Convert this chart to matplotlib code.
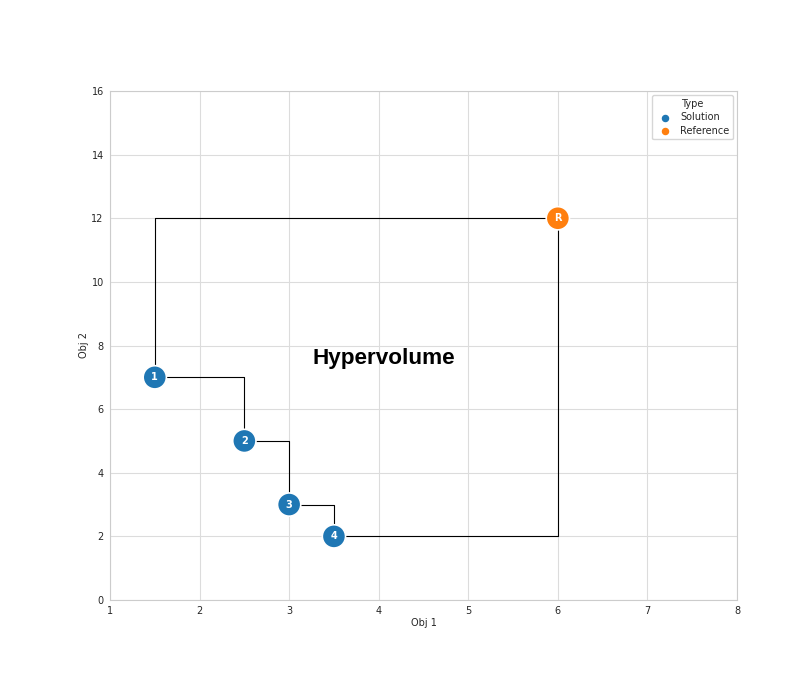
import matplotlib
matplotlib.use('Agg')
import matplotlib.pyplot as plt
import seaborn as sns
import pandas as pd

# solutions and reference point
obj1 = [1.5, 2.5, 3.0, 3.5]
obj2 = [7, 5, 3, 2]
labels = ['1', '2', '3', '4']
ref_x, ref_y = 6, 12

df = pd.DataFrame({'Obj 1': obj1 + [ref_x], 'Obj 2': obj2 + [ref_y],
                   'Type': ['Solution'] * len(obj1) + ['Reference']})

sns.set_style('whitegrid', {'grid.color': '#dcdcdc'})
fig = plt.figure(figsize=(8.04, 6.8), dpi=100)
ax = fig.add_axes([110 / 804, 1 - 600 / 680, (737 - 110) / 804, (600 - 91) / 680])

# hypervolume boundary (staircase + reference box)
px = [obj1[0]]
py = [ref_y]
for i in range(len(obj1)):
    px.append(obj1[i]); py.append(obj2[i])
    nx = obj1[i + 1] if i + 1 < len(obj1) else ref_x
    px.append(nx); py.append(obj2[i])
px += [ref_x, obj1[0]]
py += [ref_y, ref_y]
ax.plot(px, py, color='black', lw=0.8, zorder=2)

sns.scatterplot(data=df, x='Obj 1', y='Obj 2', hue='Type', s=280, ax=ax,
                edgecolor='white', linewidth=1.2, zorder=3, legend=False)
ax.scatter([], [], color='#1f77b4', label='Solution', s=30)
ax.scatter([], [], color='#ff7f0e', label='Reference', s=30)

for x, y, t in zip(obj1, obj2, labels):
    ax.text(x, y, t, color='white', fontsize=7, fontweight='bold',
            ha='center', va='center', zorder=4)
ax.text(ref_x, ref_y, 'R', color='white', fontsize=7, fontweight='bold',
        ha='center', va='center', zorder=4)

ax.text(4.06, 7.58, 'Hypervolume', fontsize=16.2, fontweight='bold',
        family='Liberation Sans', color='black', ha='center', va='center')

ax.set_xlim(1, 8)
ax.set_ylim(0, 16)
ax.set_xticks(range(1, 9))
ax.set_yticks(range(0, 17, 2))
ax.tick_params(labelsize=7, pad=1)
ax.set_xlabel('Obj 1', fontsize=7, labelpad=1.5)
ax.set_ylabel('Obj 2', fontsize=7, labelpad=1.5)
ax.legend(title='Type', fontsize=7, title_fontsize=7, loc='upper right',
          markerscale=0.8, handletextpad=0.5, labelspacing=0.35,
          borderaxespad=0.4)

fig.savefig('out.png', dpi=100)
